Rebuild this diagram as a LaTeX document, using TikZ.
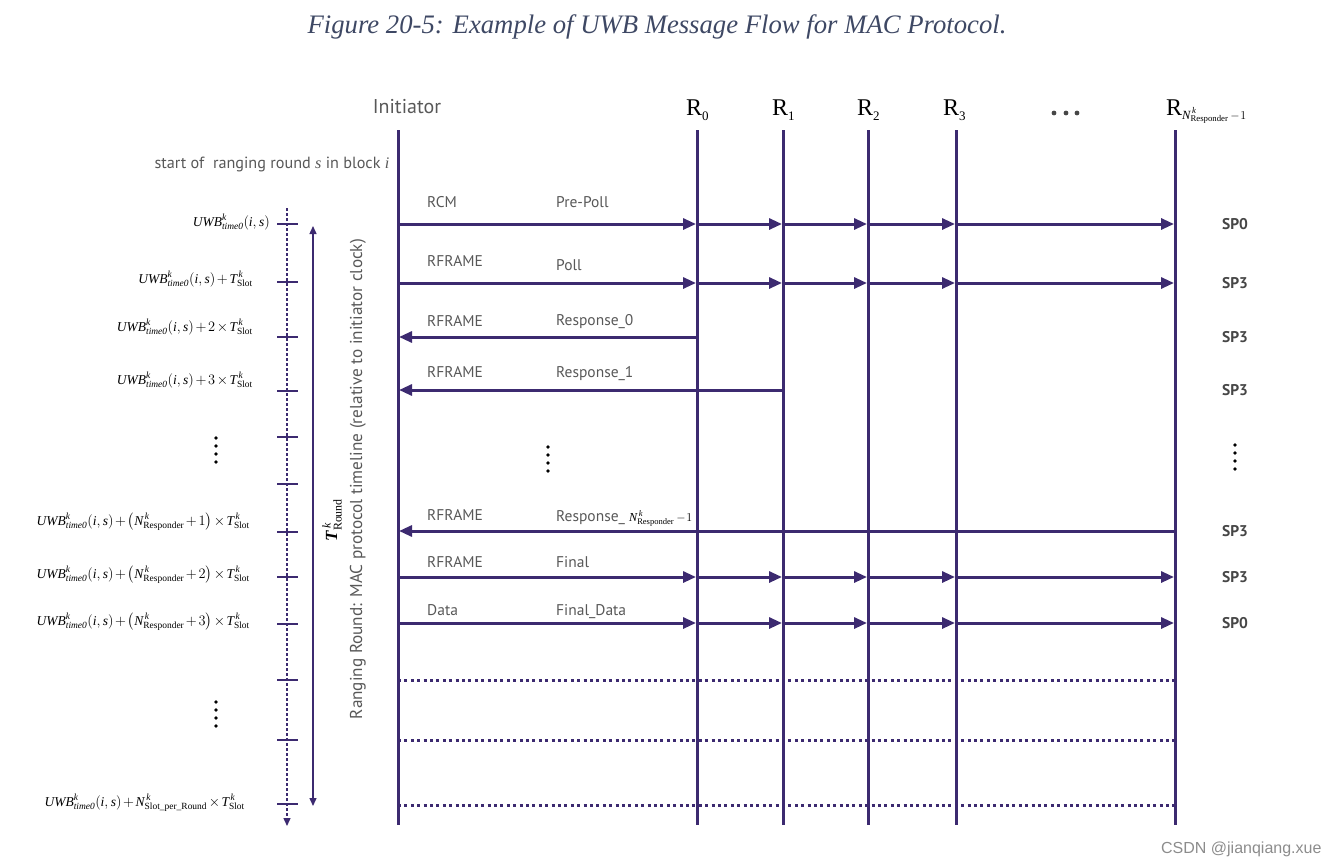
\documentclass[tikz,border=0pt]{standalone}
\usepackage{amsmath}
\usepackage{fontspec}
\setmainfont{Liberation Serif}
\newfontfamily\labf{PT Sans}
\newfontfamily\wmf{Liberation Sans}
\usetikzlibrary{arrows.meta}
\definecolor{lc}{RGB}{60,42,112}
\definecolor{tg}{RGB}{88,88,88}
\definecolor{sg}{RGB}{70,70,70}
\definecolor{tt}{RGB}{62,72,100}
\newcommand{\mi}[1]{\text{\normalfont\itshape #1}}
\newcommand{\mr}[1]{\text{\normalfont #1}}
\newcommand{\rsub}[1]{R\raisebox{-5pt}{\fontsize{13}{13}\selectfont #1}}
\newcommand{\uwb}{\mi{UWB}^{\mi{k}}_{\mi{time0}}(\mi{i},\mi{s})}
\newcommand{\tslot}{\mi{T}^{\,\mi{k}}_{\mr{Slot}}}
\newcommand{\nresp}{\mi{N}^{\,\mi{k}}_{\mr{Responder}}}
\newcommand{\pls}{\mkern2mu{+}\mkern2mu}
\newcommand{\tms}{\mkern2mu{\times}\mkern2mu}
\newcommand{\mns}{\mkern3mu{-}\mkern1mu}
\begin{document}
\begin{tikzpicture}[x=1pt,y=-1pt,
  life/.style={line width=3pt,draw=lc},
  msg/.style={line width=3pt,draw=lc,-{Triangle[length=13pt,width=11pt]},shorten >=1pt},
  dotrow/.style={line width=3pt,draw=lc,dash pattern=on 3pt off 3.4pt},
  mlab/.style={font=\labf\fontsize{15.5}{18}\selectfont,text=tg,anchor=base west,inner sep=0pt},
  splab/.style={font=\labf\bfseries\fontsize{15.5}{18}\selectfont,text=sg,inner sep=0pt},
  tlab/.style={font=\fontsize{13.5}{16}\selectfont,anchor=east,inner sep=0pt},
  rlab/.style={font=\fontsize{24}{26}\selectfont,anchor=base west,inner sep=0pt},
  tickm/.style={line width=2pt,draw=lc},
]
\useasboundingbox (0,0) rectangle (1340,867);

% title
\node[font=\itshape\fontsize{26.7}{30}\selectfont,text=tt] (title) at (657,27) {Figure 20-5: Example of UWB Message Flow for MAC Protocol.};

% headers
\node[font=\labf\fontsize{20}{22}\selectfont,text=tg,anchor=base] (hI) at (407,113) {Initiator};
\node[rlab] (h0) at (686,115) {\rsub{0}};
\node[rlab] (h1) at (772,115) {\rsub{1}};
\node[rlab] (h2) at (857,115) {\rsub{2}};
\node[rlab] (h3) at (943,115) {\rsub{3}};
\node[rlab] (hN) at (1166,115) {R\raisebox{-4pt}{\fontsize{12.5}{13}\selectfont$\nresp\mns1$}};
\foreach \xx in {1054,1066,1077} \fill[sg] (\xx,113) circle (2.4);

% lifelines
\coordinate (I) at (398,130);  \coordinate (Ib) at (398,825);
\coordinate (A) at (697,130);  \coordinate (Ab) at (697,825);
\coordinate (B) at (783,130);  \coordinate (Bb) at (783,825);
\coordinate (C) at (868,130);  \coordinate (Cb) at (868,825);
\coordinate (D) at (956,130);  \coordinate (Db) at (956,825);
\coordinate (N) at (1175,130); \coordinate (Nb) at (1175,825);
\foreach \p in {I,A,B,C,D,N} \draw[life] (\p) -- (\p b);

% rows
\coordinate (y1) at (0,224);
\coordinate (y2) at (0,283);
\coordinate (y3) at (0,337);
\coordinate (y4) at (0,390);
\coordinate (y5) at (0,531);
\coordinate (y6) at (0,577);
\coordinate (y7) at (0,623);
\coordinate (y8) at (0,680);
\coordinate (y9) at (0,740);
\coordinate (y10) at (0,805);

% forward messages
\foreach \r in {y1,y2,y6,y7}{
  \draw[msg] (I |- \r) -- (A |- \r);
  \draw[msg] (A |- \r) -- (B |- \r);
  \draw[msg] (B |- \r) -- (C |- \r);
  \draw[msg] (C |- \r) -- (D |- \r);
  \draw[msg] (D |- \r) -- (N |- \r);
}
% responses
\draw[msg] (A |- y3) -- (I |- y3);
\draw[msg] (B |- y4) -- (I |- y4);
\draw[msg] (N |- y5) -- (I |- y5);
% dotted rows
\foreach \r in {y8,y9,y10} \draw[dotrow] (I |- \r) -- (N |- \r);

% message labels
\node[mlab] (m1a) at (427,207) {RCM};
\node[mlab] (m1b) at (556,207) {Pre-Poll};
\node[mlab] (m2a) at (427,266) {RFRAME};
\node[mlab] (m2b) at (556,270) {Poll};
\node[mlab] (m3a) at (427,326) {RFRAME};
\node[mlab] (m3b) at (556,325) {Response\_0};
\node[mlab] (m4a) at (427,377) {RFRAME};
\node[mlab] (m4b) at (556,377) {Response\_1};
\node[mlab] (m5a) at (427,520) {RFRAME};
\node[mlab] (m5b) at (556,521) {Response\_ {\color{black}\fontsize{12.2}{14}\selectfont$\nresp\mns1$}};
\node[mlab] (m6a) at (427,567) {RFRAME};
\node[mlab] (m6b) at (556,567) {Final};
\node[mlab] (m7a) at (427,615) {Data};
\node[mlab] (m7b) at (556,615) {Final\_Data};

% SP labels
\node[splab] (s1) at (1235,224) {SP0};
\node[splab] (s2) at (1235,283) {SP3};
\node[splab] (s3) at (1235,337) {SP3};
\node[splab] (s4) at (1235,390) {SP3};
\node[splab] (s5) at (1235,531) {SP3};
\node[splab] (s6) at (1235,577) {SP3};
\node[splab] (s7) at (1235,623) {SP0};

% dots
\foreach \yy in {447,455,463,471} \fill (548,\yy) circle (1.8);
\foreach \yy in {445,453,461,469} \fill (1235,\yy) circle (1.8);
\foreach \yy in {438,446,454,462} \fill (216,\yy) circle (1.8);
\foreach \yy in {702,710,718,726} \fill (216,\yy) circle (1.8);

% left time axis
\node[font=\labf\fontsize{16.2}{18}\selectfont,text=tg,anchor=base west] (start) at (151,168) {start of\ \ ranging round $\mi{s}$ in block $\mi{i}$};
\coordinate (ax0) at (287,208);
\coordinate (ax1) at (287,826);
\draw[line width=1.4pt,draw=lc,dash pattern=on 2.5pt off 2.5pt,-{Triangle[length=8pt,width=7pt]}] (ax0) -- (ax1);
\foreach \yy in {224,282,337,391,437,484,532,577,624,680,740,804} \draw[tickm] (277,\yy) -- (298,\yy);
\coordinate (rt0) at (313,226);
\coordinate (rt1) at (313,806);
\draw[line width=1.4pt,draw=lc,{Triangle[length=8pt,width=7pt]}-{Triangle[length=8pt,width=7pt]}] (rt0) -- (rt1);
\node[rotate=90,font=\fontsize{17}{18}\selectfont] (tr) at (332,520) {$\text{\normalfont\bfseries\itshape T}^{\,\mi{k}}_{\mr{Round}}$};
\node[rotate=90,font=\labf\fontsize{17.2}{20}\selectfont,text=tg] (rr) at (358,479) {Ranging Round: MAC protocol timeline (relative to initiator clock)};

% time labels
\node[tlab] (l0) at (270,222) {$\uwb$};
\node[tlab] (l1) at (253,279) {$\uwb\pls\tslot$};
\node[tlab] (l2) at (253,327) {$\uwb\pls2\tms\tslot$};
\node[tlab] (l3) at (253,380) {$\uwb\pls3\tms\tslot$};
\node[tlab] (l4) at (250,522) {$\uwb\pls\bigl(\nresp\pls1\bigr)\tms\tslot$};
\node[tlab] (l5) at (250,575) {$\uwb\pls\bigl(\nresp\pls2\bigr)\tms\tslot$};
\node[tlab] (l6) at (250,622) {$\uwb\pls\bigl(\nresp\pls3\bigr)\tms\tslot$};
\node[tlab] (l7) at (245,803) {$\uwb\pls\mi{N}^{\,\mi{k}}_{\mr{Slot\_per\_Round}}\tms\tslot$};

% watermark
\node[font=\wmf\fontsize{16}{18}\selectfont,text=black!45,anchor=base east] (wm) at (1325,853) {CSDN @jianqiang.xue};
\end{tikzpicture}
\end{document}
